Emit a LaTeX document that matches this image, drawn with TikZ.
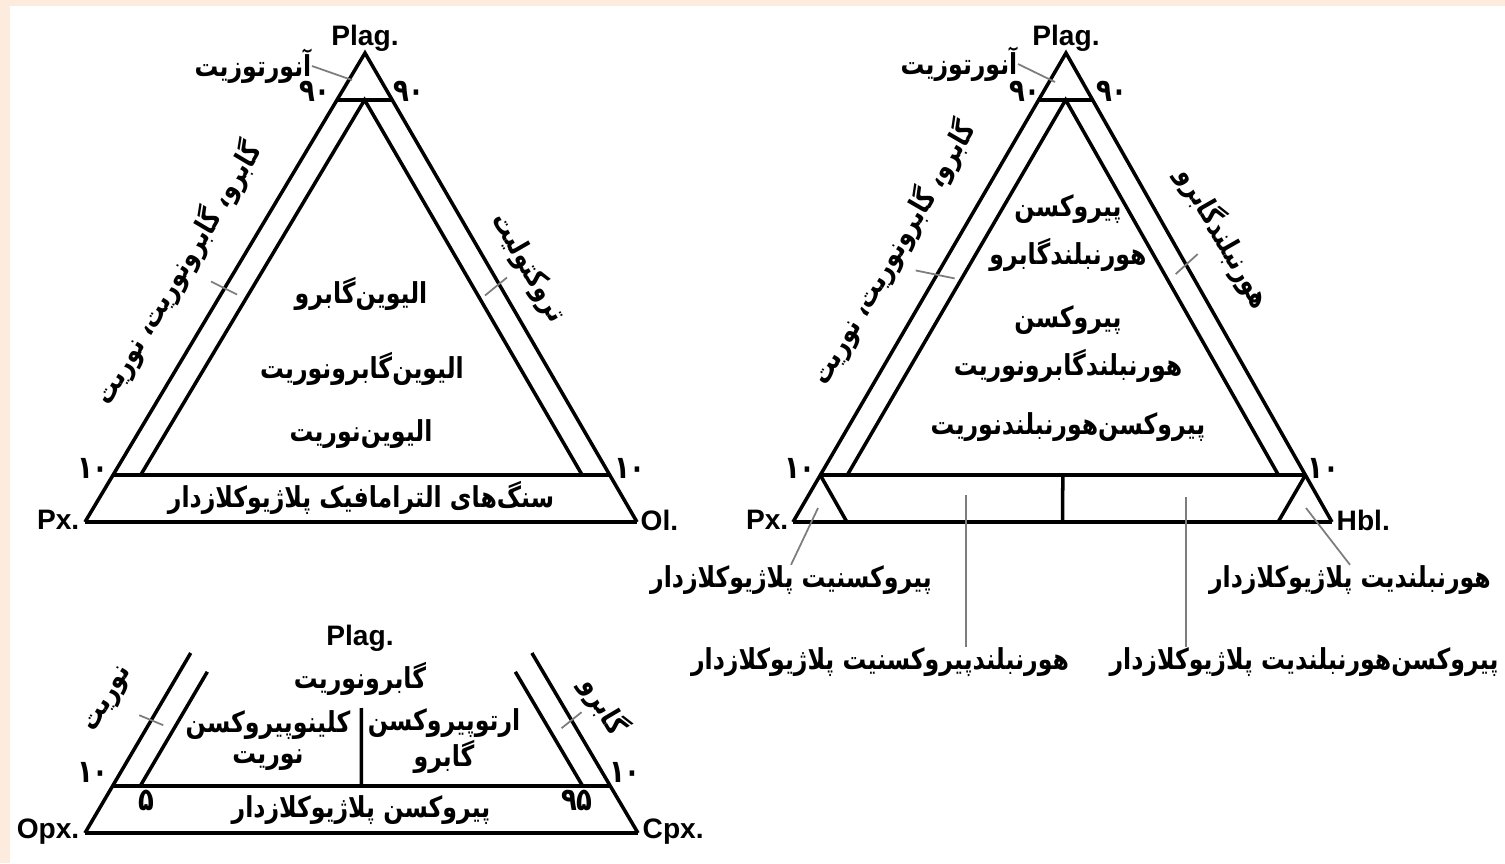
\documentclass[tikz,border=0pt]{standalone}
\usepackage{fontspec}
\setmainfont{Liberation Sans}
\newfontfamily\fa[Script=Arabic, FakeStretch=0.82]{DejaVu Sans}
\TeXXeTstate=1
\usepackage{tikz}
\usetikzlibrary{calc}
\definecolor{peach}{RGB}{253,235,221}
\definecolor{leadgray}{RGB}{125,125,125}
\newcommand{\fatx}[1]{\beginR#1\endR}
\tikzset{
  edge/.style={line width=1pt, color=black, line join=miter},
  band/.style={line width=1.3pt, color=black},
  leader/.style={line width=0.5pt, color=leadgray},
  vtx/.style={font=\fontsize{8}{9}\selectfont\bfseries, inner sep=0pt},
  fatext/.style={font=\fa\bfseries\fontsize{8.2}{13.4}\selectfont, inner sep=0pt, align=center},
  fatight/.style={font=\fa\bfseries\fontsize{8.2}{8.8}\selectfont, inner sep=0pt, align=center},
  num/.style={font=\fa\bfseries\fontsize{9}{10}\selectfont, inner sep=0pt}
}

\begin{document}
\begin{tikzpicture}[x=0.01cm, y=-0.01cm]
  % Background
  \fill[peach] (0,0) rectangle (1505,863);
  \fill[white] (10,6) rectangle (1505,863);
  \useasboundingbox (0,0) rectangle (1505,863);

  % Triangle Plag - Px - Ol
  \coordinate (pl1) at (365,53);
  \coordinate (px1) at (85,522);
  \coordinate (ol1) at (637,522);
  \coordinate (a1l) at (barycentric cs:pl1=0.9,px1=0.1);
  \coordinate (a1r) at (barycentric cs:pl1=0.9,ol1=0.1);
  \coordinate (a1m) at (barycentric cs:pl1=0.9,px1=0.05,ol1=0.05);
  \coordinate (t1l) at (barycentric cs:pl1=0.1,px1=0.9);
  \coordinate (t1r) at (barycentric cs:pl1=0.1,ol1=0.9);
  \coordinate (i1l) at (barycentric cs:pl1=0.1,px1=0.85,ol1=0.05);
  \coordinate (i1r) at (barycentric cs:pl1=0.1,px1=0.05,ol1=0.85);
  \draw[edge] (px1) -- (pl1) -- (ol1);
  \draw[band] (px1) -- (ol1);
  \draw[edge] (a1l) -- (a1r);
  \draw[band] (t1l) -- (t1r);
  \draw[edge] (i1l) -- (a1m) -- (i1r);

  \node[vtx] (plag1) at (365,38) {Plag.};
  \node[vtx, anchor=east] (px1l) at (80,520) {Px.};
  \node[vtx, anchor=west] (ol1l) at (640,520) {Ol.};
  \node[num] (n90a) at (315,91) {۹۰};
  \node[num] (n90b) at (409,91) {۹۰};
  \node[num] (n10a) at (93,468) {۱۰};
  \node[num] (n10b) at (630,468) {۱۰};
  \node[fatext, anchor=east] (ano1) at (312,66) {\fatx{آنورتوزیت}};
  \coordinate (an1) at (352,80);
  \draw[leader] (ano1.east) -- (an1);
  \node[fatext, rotate=59.2] (side1l) at (178,273) {\fatx{گابرو، گابرونوریت، نوریت}};
  \node[fatext, rotate=-59.9] (side1r) at (528,268) {\fatx{تروکتولیت}};
  \draw[leader] ($(px1)!0.5!(pl1)$) +(-14,-6) -- +(12,7);
  \draw[leader] ($(ol1)!0.5!(pl1)$) +(-16,8) -- +(6,-10);
  \node[fatext] (olgab) at (361,294) {\fatx{الیوین‌گابرو}};
  \node[fatext] (olgno) at (362,369) {\fatx{الیوین‌گابرونوریت}};
  \node[fatext] (olnor) at (361,434) {\fatx{الیوین‌نوریت}};
  \node[fatext] (umaf) at (361,498) {\fatx{سنگ‌های الترامافیک پلاژیوکلازدار}};

  % Triangle Plag - Px - Hbl
  \coordinate (pl2) at (1066,53);
  \coordinate (px2) at (793,522);
  \coordinate (hb2) at (1332,522);
  \coordinate (a2l) at (barycentric cs:pl2=0.9,px2=0.1);
  \coordinate (a2r) at (barycentric cs:pl2=0.9,hb2=0.1);
  \coordinate (a2m) at (barycentric cs:pl2=0.9,px2=0.05,hb2=0.05);
  \coordinate (t2l) at (barycentric cs:pl2=0.1,px2=0.9);
  \coordinate (t2r) at (barycentric cs:pl2=0.1,hb2=0.9);
  \coordinate (i2l) at (barycentric cs:pl2=0.1,px2=0.85,hb2=0.05);
  \coordinate (i2r) at (barycentric cs:pl2=0.1,px2=0.05,hb2=0.85);
  \coordinate (s2l) at (barycentric cs:px2=0.9,hb2=0.1);
  \coordinate (s2r) at (barycentric cs:px2=0.1,hb2=0.9);
  \coordinate (m2t) at (barycentric cs:pl2=0.1,px2=0.45,hb2=0.45);
  \coordinate (m2b) at (barycentric cs:px2=0.5,hb2=0.5);
  \draw[edge] (px2) -- (pl2) -- (hb2);
  \draw[band] (px2) -- (hb2);
  \draw[edge] (a2l) -- (a2r);
  \draw[band] (t2l) -- (t2r);
  \draw[edge] (i2l) -- (a2m) -- (i2r);
  \draw[edge] (t2l) -- (s2l);
  \draw[edge] (t2r) -- (s2r);
  \draw[edge] (m2t) -- (m2b);

  \node[vtx] (plag2) at (1066,38) {Plag.};
  \node[vtx, anchor=east] (px2l) at (789,520) {Px.};
  \node[vtx, anchor=west] (hb2l) at (1336,520) {Hbl.};
  \node[num] (n90c) at (1025,91) {۹۰};
  \node[num] (n90d) at (1112,91) {۹۰};
  \node[num] (n10c) at (800,468) {۱۰};
  \node[num] (n10d) at (1323,468) {۱۰};
  \node[fatext, anchor=east] (ano2) at (1018,64) {\fatx{آنورتوزیت}};
  \coordinate (an2) at (1055,82);
  \draw[leader] (ano2.east) -- (an2);
  \node[fatext, rotate=59.8] (side2l) at (893,253) {\fatx{گابرو، گابرونوریت، نوریت}};
  \node[fatext, rotate=-60.2] (side2r) at (1224,238) {\fatx{هورنبلندگابرو}};
  \draw[leader] ($(px2)!0.53!(pl2)$) +(-22,-3) -- +(17,5);
  \draw[leader] ($(hb2)!0.55!(pl2)$) +(-10,10) -- +(12,-10);
  \node[fatext] (pxhgab) at (1068,233) {\fatx{پیروکسن}\\\fatx{هورنبلندگابرو}};
  \node[fatext] (pxhgno) at (1068,344) {\fatx{پیروکسن}\\\fatx{هورنبلندگابرونوریت}};
  \node[fatext] (pxhnor) at (1068,427) {\fatx{پیروکسن‌هورنبلندنوریت}};

  % Plagioclase-bearing rocks below
  \node[fatext] (pxtpl) at (791,580) {\fatx{پیروکسنیت پلاژیوکلازدار}};
  \node[fatext] (hbtpl) at (1350,580) {\fatx{هورنبلندیت پلاژیوکلازدار}};
  \node[fatext] (hpxpl) at (880,662) {\fatx{هورنبلندپیروکسنیت پلاژیوکلازدار}};
  \node[fatext] (phbpl) at (1304,662) {\fatx{پیروکسن‌هورنبلندیت پلاژیوکلازدار}};
  \coordinate (q2l) at (818,508);
  \coordinate (q2r) at (1306,508);
  \coordinate (q2a) at (966,495);
  \coordinate (q2b) at (1186,497);
  \draw[leader] (q2l) -- (pxtpl.north);
  \draw[leader] (q2r) -- (hbtpl.north);
  \draw[leader] (q2a) -- (q2a |- hpxpl.north);
  \draw[leader] (q2b) -- (q2b |- phbpl.north);

  % Triangle Plag - Opx - Cpx (lower part)
  \coordinate (pl3) at (361,363);
  \coordinate (opx3) at (85,833);
  \coordinate (cpx3) at (638,833);
  \coordinate (o3l) at (barycentric cs:pl3=0.383,opx3=0.617);
  \coordinate (o3r) at (barycentric cs:pl3=0.383,cpx3=0.617);
  \coordinate (t3l) at (barycentric cs:pl3=0.1,opx3=0.9);
  \coordinate (t3r) at (barycentric cs:pl3=0.1,cpx3=0.9);
  \coordinate (i3l) at (barycentric cs:pl3=0.1,opx3=0.85,cpx3=0.05);
  \coordinate (i3r) at (barycentric cs:pl3=0.1,opx3=0.05,cpx3=0.85);
  \coordinate (j3l) at (barycentric cs:pl3=0.343,opx3=0.607,cpx3=0.05);
  \coordinate (j3r) at (barycentric cs:pl3=0.343,opx3=0.05,cpx3=0.607);
  \coordinate (m3t) at (barycentric cs:pl3=0.266,opx3=0.367,cpx3=0.367);
  \coordinate (m3b) at (barycentric cs:pl3=0.1,opx3=0.45,cpx3=0.45);
  \draw[edge] (opx3) -- (o3l);
  \draw[edge] (cpx3) -- (o3r);
  \draw[band] (opx3) -- (cpx3);
  \draw[band] (t3l) -- (t3r);
  \draw[edge] (i3l) -- (j3l);
  \draw[edge] (i3r) -- (j3r);
  \draw[edge] (m3t) -- (m3b);

  \node[vtx] (plag3) at (360,638) {Plag.};
  \node[vtx, anchor=east] (opx3l) at (80,832) {Opx.};
  \node[vtx, anchor=west] (cpx3l) at (642,832) {Cpx.};
  \node[num] (n10e) at (93,772) {۱۰};
  \node[num] (n10f) at (625,772) {۱۰};
  \node[num] (n5) at (146,800) {۵};
  \node[num] (n95) at (577,800) {۹۵};
  \node[fatext] (gabno) at (360,679) {\fatx{گابرونوریت}};
  \node[fatight] (cpxnor) at (268,741) {\fatx{کلینوپیروکسن}\\\fatx{نوریت}};
  \node[fatight] (opxgab) at (444,741) {\fatx{ارتوپیروکسن}\\\fatx{گابرو}};
  \node[fatext] (pxpl) at (361,810) {\fatx{پیروکسن پلاژیوکلازدار}};
  \node[fatext, rotate=59.5] (side3l) at (110,700) {\fatx{نوریت}};
  \node[fatext, rotate=-59.5] (side3r) at (604,706) {\fatx{گابرو}};
  \draw[leader] ($(opx3)!0.24!(pl3)$) +(-12,-5) -- +(12,5);
  \draw[leader] ($(cpx3)!0.24!(pl3)$) +(-10,8) -- +(10,-8);
\end{tikzpicture}
\end{document}
